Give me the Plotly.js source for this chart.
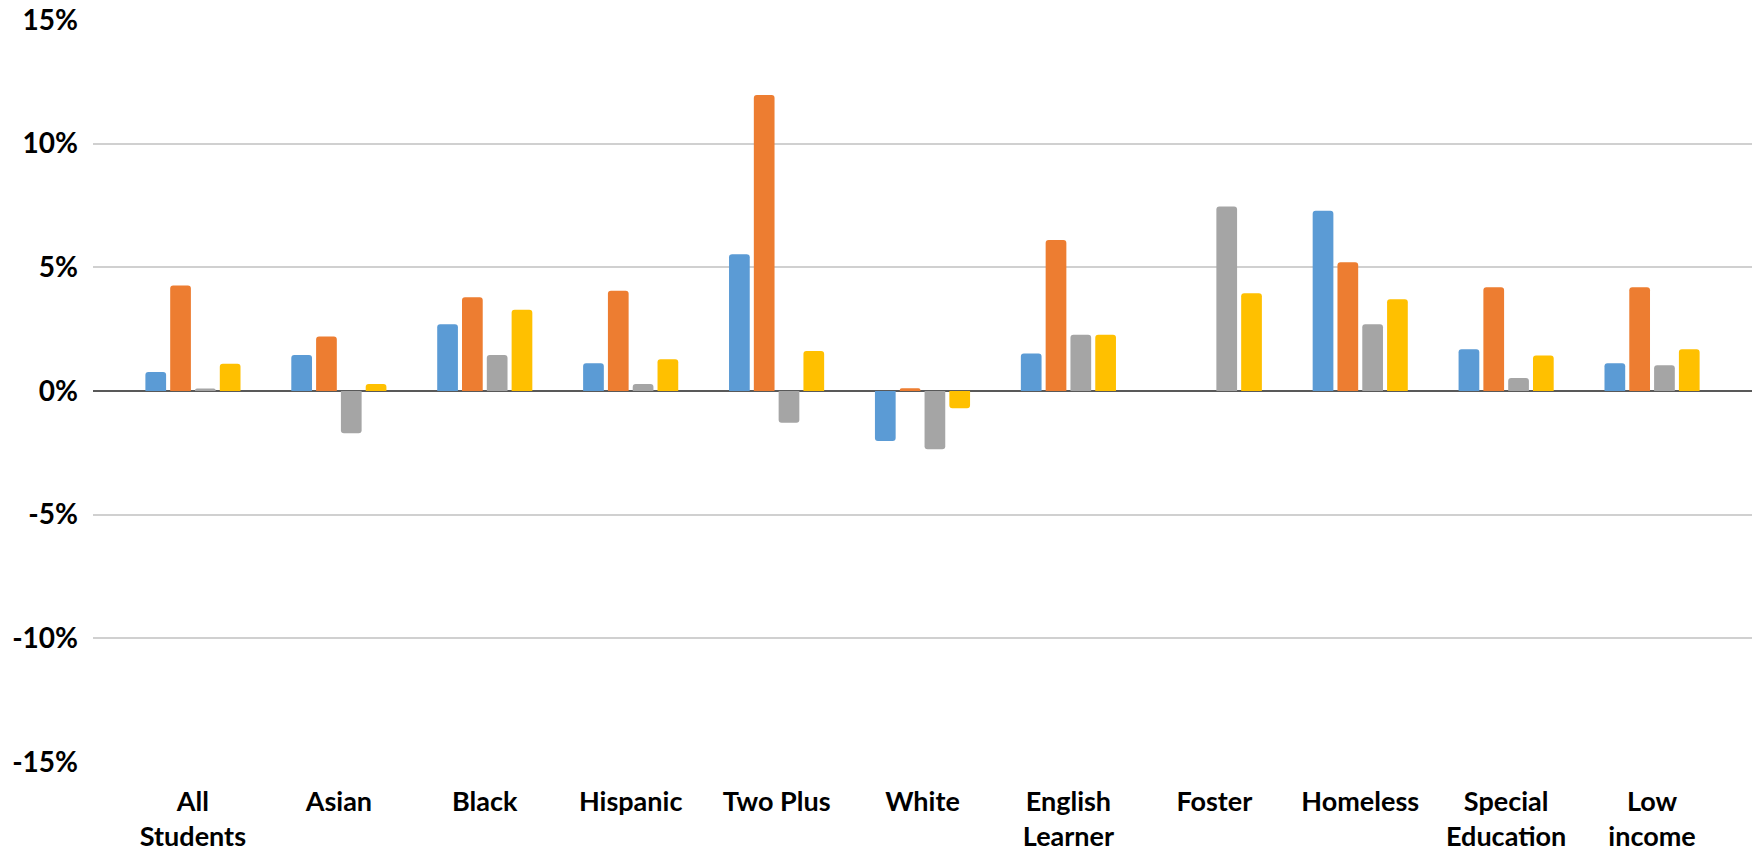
<!DOCTYPE html>
<html>
<head>
<meta charset="utf-8">
<script src="https://cdn.plot.ly/plotly-3.0.1.min.js"></script>
<style>
  html, body { margin: 0; padding: 0; background: #ffffff; }
  #chart { width: 1763px; height: 857px; }
</style>
</head>
<body>
<div id="chart"></div>
<script>
// Categories (x-axis labels)
const categories = [
  "All<br>Students", "Asian", "Black", "Hispanic", "Two Plus", "White",
  "English<br>Learner", "Foster", "Homeless", "Special<br>Education", "Low<br>income"
];

// Series values, in percent
const series1 = [0.77, 1.46, 2.70, 1.12, 5.53, -2.02, 1.52, null, 7.29, 1.69, 1.12];
const series2 = [4.27, 2.20, 3.79, 4.05, 11.97, 0.11, 6.11, null, 5.21, 4.19, 4.19];
const series3 = [0.10, -1.71, 1.46, 0.28, -1.28, -2.36, 2.27, 7.46, 2.70, 0.53, 1.04];
const series4 = [1.10, 0.28, 3.29, 1.28, 1.62, -0.70, 2.27, 3.95, 3.71, 1.44, 1.69];

const seriesNames = ["Series 1", "Series 2", "Series 3", "Series 4"];
const seriesValues = [series1, series2, series3, series4];
const seriesColors = ["#5B9BD5", "#ED7D31", "#A5A5A5", "#FFC000"];

// Y tick labels
const yTickVals = [-15, -10, -5, 0, 5, 10, 15];
const yTickText = ["-15%", "-10%", "-5%", "0%", "5%", "10%", "15%"];

const xIdx = categories.map((c, i) => i);

const traces = seriesValues.map((vals, k) => ({
  type: "bar",
  name: seriesNames[k],
  x: xIdx,
  y: vals,
  marker: { color: seriesColors[k], cornerradius: 3, line: { width: 0 } },
  hoverinfo: "x+y+name"
}));

const font = "Lato, 'Open Sans', 'DejaVu Sans', sans-serif";

const layout = {
  width: 1763,
  height: 857,
  paper_bgcolor: "#ffffff",
  plot_bgcolor: "#ffffff",
  showlegend: false,
  barmode: "group",
  bargap: 0.32,
  bargroupgap: 0.165,
  margin: { l: 93, r: 11, t: 20, b: 95, pad: 0 },
  font: { family: font, color: "#000000", size: 28, weight: "bold" },
  xaxis: {
    type: "linear",
    range: [-0.685, 10.685],
    tickmode: "array",
    tickvals: xIdx,
    ticktext: categories,
    showgrid: false,
    zeroline: false,
    showline: false,
    ticks: "",
    ticklabelstandoff: 21,
    tickfont: { family: font, size: 27, color: "#000000", weight: "bold" }
  },
  yaxis: {
    range: [-15, 15],
    tickmode: "array",
    tickvals: yTickVals,
    ticktext: yTickText,
    showgrid: true,
    gridcolor: "#D0D0D0",
    gridwidth: 2,
    zeroline: true,
    zerolinecolor: "#595959",
    zerolinewidth: 2,
    showline: false,
    ticks: "",
    ticklabelstandoff: 14,
    tickfont: { family: font, size: 28, color: "#000000", weight: "bold" }
  }
};

Plotly.newPlot("chart", traces, layout, { displayModeBar: false, staticPlot: true });
</script>
</body>
</html>
